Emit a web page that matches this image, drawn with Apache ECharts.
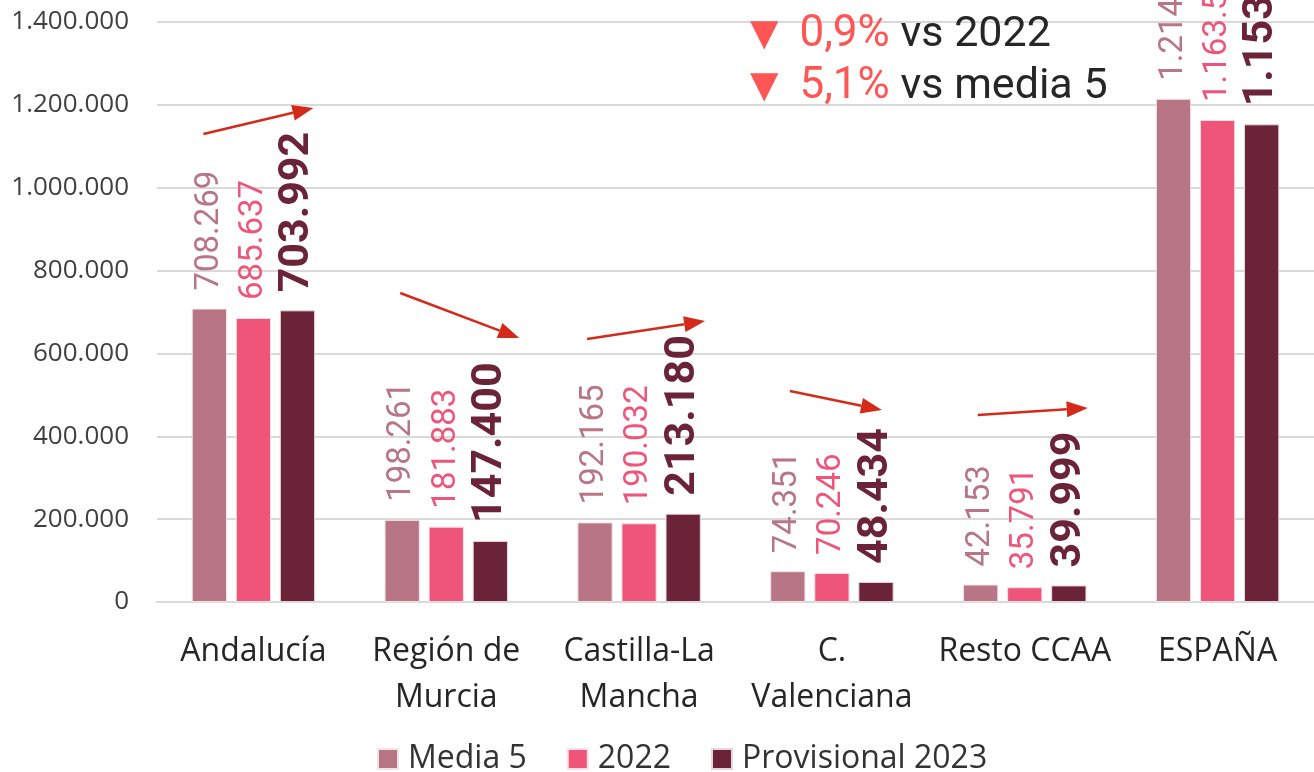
<!DOCTYPE html>
<html>
<head>
<meta charset="utf-8">
<script src="https://cdn.jsdelivr.net/npm/echarts@6/dist/echarts.min.js"></script>
<style>
  html, body { margin: 0; padding: 0; background: #fff; }
  #chart { width: 1314px; height: 772px; }
</style>
</head>
<body>
<div id="chart"></div>
<script>
const categories = ['Andalucía', 'Región de\nMurcia', 'Castilla-La\nMancha', 'C.\nValenciana', 'Resto CCAA', 'ESPAÑA']
const media5 = [708269, 198261, 192165, 74351, 42153, 1214651]
const y2022 = [685637, 181883, 190032, 70246, 35791, 1163589]
const y2023 = [703992, 147400, 213180, 48434, 39999, 1153005]
const yTicks = [0, 200000, 400000, 600000, 800000, 1000000, 1200000, 1400000]

// arrows: [category index, start value, end value]
const arrows = [
  [0, 1129700, 1192400],
  [1, 745900, 637200],
  [2, 634800, 678300],
  [3, 509300, 463400],
  [4, 451400, 468300],
]
// horizontal layout of each arrow around its category centre (px)
const arrowDx = [[-50, 60], [-46, 73], [-52, 66], [-42, 50], [-47, 63]]

const fmt = (v) => String(v).replace(/\B(?=(\d{3})+(?!\d))/g, '.')

const colors = ['#b87585', '#ee5579', '#6b2437']

var myChart = echarts.init(document.getElementById('chart'))

const barLabel = (color, size, bold) => ({
  show: true,
  position: 'top',
  rotate: 90,
  align: 'left',
  verticalAlign: 'middle',
  distance: 18,
  color: color,
  fontFamily: 'Roboto',
  fontSize: size,
  fontWeight: bold ? 'bold' : 'normal',
  formatter: (p) => fmt(p.value),
})

var option = {
  animation: false,
  grid: { left: 157, right: 0, top: 22, bottom: 170 },
  legend: {
    bottom: -8,
    left: 372,
    itemWidth: 20,
    itemHeight: 20,
    itemGap: 40,
    icon: 'rect',
    textStyle: { fontFamily: 'Open Sans', fontSize: 32, color: '#333', padding: [0, 0, 0, 5] },
    data: ['Media 5', '2022', 'Provisional 2023'],
  },
  xAxis: {
    type: 'category',
    data: categories,
    axisLine: { lineStyle: { color: '#d9d9d9', width: 2 } },
    axisTick: { show: false },
    axisLabel: {
      margin: 27,
      fontFamily: 'Open Sans',
      fontSize: 32,
      lineHeight: 46,
      color: '#262626',
      interval: 0,
    },
  },
  yAxis: {
    type: 'value',
    min: yTicks[0],
    max: yTicks[yTicks.length - 1],
    interval: 200000,
    axisLine: { show: false },
    axisTick: { show: false },
    axisLabel: {
      margin: 28,
      fontFamily: 'Open Sans',
      fontSize: 26,
      color: '#404040',
      formatter: (v) => fmt(v),
    },
    splitLine: { lineStyle: { color: '#d9d9d9', width: 2 } },
  },
  series: [
    {
      name: 'Media 5',
      type: 'bar',
      data: media5,
      barGap: '25%',
      barCategoryGap: '36%',
      itemStyle: { color: colors[0], borderColor: '#f2e3e6', borderWidth: 1 },
      label: barLabel(colors[0], 33, false),
    },
    {
      name: '2022',
      type: 'bar',
      data: y2022,
      itemStyle: { color: colors[1], borderColor: '#fbe0e6', borderWidth: 1 },
      label: barLabel(colors[1], 33, false),
    },
    {
      name: 'Provisional 2023',
      type: 'bar',
      data: y2023,
      itemStyle: { color: colors[2], borderColor: '#e8d6da', borderWidth: 1 },
      label: barLabel(colors[2], 43, true),
    },
  ],
}

myChart.setOption(option)

// arrows placed through the chart's own scales
const arrowColor = '#d42a1a'
const graphics = []
arrows.forEach(([ci, v0, v1], i) => {
  const c = myChart.convertToPixel({ xAxisIndex: 0 }, ci)
  const y0 = myChart.convertToPixel({ yAxisIndex: 0 }, v0)
  const y1 = myChart.convertToPixel({ yAxisIndex: 0 }, v1)
  const x0 = c + arrowDx[i][0]
  const x1 = c + arrowDx[i][1]
  const ang = Math.atan2(y1 - y0, x1 - x0)
  const hl = 21, hw = 8
  const bx = x1 - hl * Math.cos(ang)
  const by = y1 - hl * Math.sin(ang)
  graphics.push({
    type: 'line',
    shape: { x1: x0, y1: y0, x2: bx, y2: by },
    style: { stroke: arrowColor, lineWidth: 2.5 },
  })
  graphics.push({
    type: 'polygon',
    shape: {
      points: [
        [x1, y1],
        [bx + hw * Math.sin(ang), by - hw * Math.cos(ang)],
        [bx - hw * Math.sin(ang), by + hw * Math.cos(ang)],
      ],
    },
    style: { fill: arrowColor },
  })
})

const red = '#ff5555'
const noteRich = {
  tri: { fontFamily: 'DejaVu Sans', fontSize: 37, fill: red, padding: [0, 21, 0, 0] },
  pct: { fontFamily: 'Roboto', fontSize: 44, fill: red },
  txt: { fontFamily: 'Roboto', fontSize: 43, fill: '#262626' },
}
graphics.push({
  type: 'text',
  left: 750,
  top: 9,
  style: {
    text: '{tri|▼}{pct|0,9%}{txt| vs 2022}\n{tri|▼}{pct|5,1%}{txt| vs media 5}',
    rich: noteRich,
    lineHeight: 52,
  },
})

myChart.setOption({ graphic: graphics })
</script>
</body>
</html>
